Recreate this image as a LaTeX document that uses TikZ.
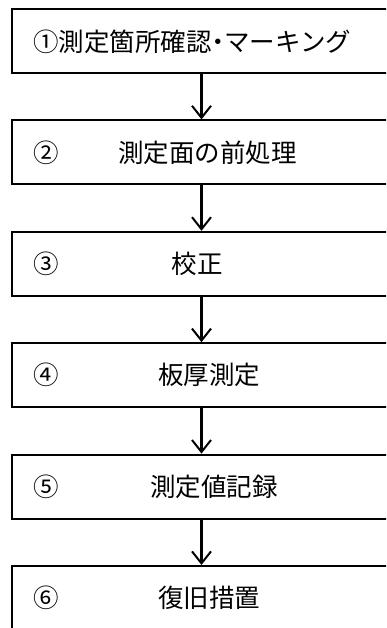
\documentclass[tikz,border=0pt]{standalone}
\usepackage{fontspec}
\newfontfamily\jp{Noto Sans CJK JP}
\usetikzlibrary{arrows.meta}
\begin{document}
\begin{tikzpicture}[x=1pt,y=-1pt,
  box/.style={draw=black,line width=2pt,minimum width=393.5pt,minimum height=64pt,inner sep=0pt,fill=white},
  lbl/.style={inner sep=0pt,font=\jp\fontsize{25.5}{30}\selectfont},
  arr/.style={line width=2.2pt,-{Straight Barb[length=12pt,width=19pt,line width=2pt]}}]
\useasboundingbox (0,0) rectangle (386,628);
\clip (0,0) rectangle (386,628);
\coordinate (ax) at (201.5,0);
\node[box] (b1) at (208.25,41) {};
\node[box] (b2) at (208.25,152.4) {};
\node[box] (b3) at (208.25,263.8) {};
\node[box] (b4) at (208.25,375.2) {};
\node[box] (b5) at (208.25,486.6) {};
\node[box] (b6) at (208.25,598) {};
\node[lbl,anchor=west] (t1) at (33,42) {①測定箇所確認\makebox[0.5em]{・}マーキング};
\node[lbl,anchor=west] (n2) at (33,153) {②};
\node[lbl] (t2) at (207.5,153) {測定面の前処理};
\node[lbl,anchor=west] (n3) at (33,264) {③};
\node[lbl] (t3) at (197,264) {校正};
\node[lbl,anchor=west] (n4) at (33,375) {④};
\node[lbl] (t4) at (209,375) {板厚測定};
\node[lbl,anchor=west] (n5) at (33,487) {⑤};
\node[lbl] (t5) at (214,487) {測定値記録};
\node[lbl,anchor=west] (n6) at (33,598) {⑥};
\node[lbl] (t6) at (209,598) {復旧措置};
\foreach \a/\b in {b1/b2,b2/b3,b3/b4,b4/b5,b5/b6}
  \draw[arr] (\a.south -| ax) -- (\b.north -| ax);
\end{tikzpicture}
\end{document}
